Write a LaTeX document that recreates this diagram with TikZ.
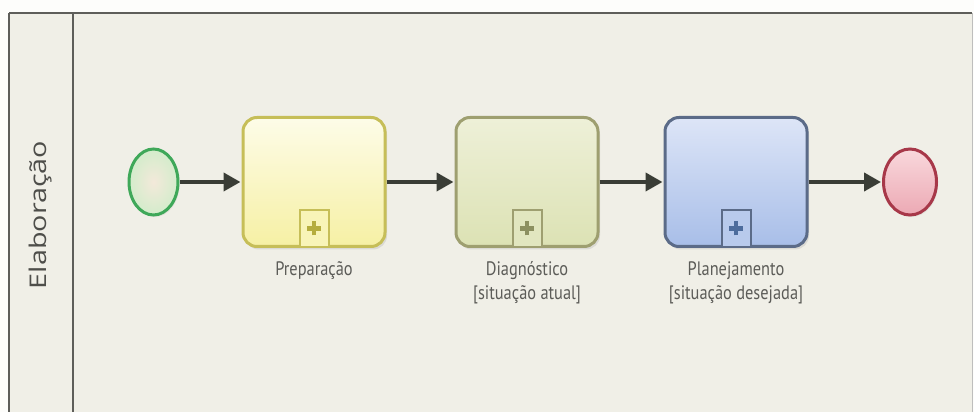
\documentclass[tikz,border=0pt]{standalone}
\usepackage{fontspec}
\usepackage{graphicx}
\usetikzlibrary{shapes.geometric,arrows.meta,shadows}
\newfontfamily\tasklbl[FakeStretch=0.84]{PT Sans}
\newfontfamily\lanelbl[FakeStretch=1.25]{Open Sans}
\definecolor{poolbg}{HTML}{F0EFE7}
\definecolor{outbg}{HTML}{FDFDFB}
\definecolor{poolline}{HTML}{5E5E5A}
\definecolor{flowc}{HTML}{3A3D36}
\definecolor{labelc}{HTML}{5C5C58}
\definecolor{lanec}{HTML}{4E4E4A}
\definecolor{yBord}{HTML}{C6BE58}
\definecolor{yTop}{HTML}{FDFCE8}
\definecolor{yBot}{HTML}{F6F0A4}
\definecolor{yPlus}{HTML}{B5AD3E}
\definecolor{gBord}{HTML}{9E9F70}
\definecolor{gTop}{HTML}{EEF0D8}
\definecolor{gBot}{HTML}{DCE2B4}
\definecolor{gPlus}{HTML}{8C9060}
\definecolor{bBord}{HTML}{5B6B88}
\definecolor{bTop}{HTML}{DDE5F7}
\definecolor{bBot}{HTML}{A8BEE8}
\definecolor{bPlus}{HTML}{4D6C9C}
\definecolor{sBord}{HTML}{3FA859}
\definecolor{sIn}{HTML}{F3E9DA}
\definecolor{sOut}{HTML}{D3ECCB}
\definecolor{eBord}{HTML}{A73849}
\definecolor{eTop}{HTML}{F9D8DC}
\definecolor{eBot}{HTML}{ECA9B4}
\tikzset{
  x=1pt, y=1pt,
  taskbox/.style={rectangle, rounded corners=14pt, minimum width=142pt, minimum height=129pt,
    inner sep=0pt, line width=3pt,
    drop shadow={opacity=0.18, shadow xshift=2pt, shadow yshift=-3pt}},
  marker/.style={rectangle, minimum width=29pt, minimum height=37pt, inner sep=0pt, line width=2pt, anchor=south},
  eventc/.style={ellipse, minimum width=49pt, minimum height=66pt, inner sep=0pt, line width=3pt,
    drop shadow={opacity=0.12, shadow xshift=1.5pt, shadow yshift=-2pt}},
  flow/.style={draw=flowc, line width=4pt, -{Triangle[length=17pt,width=18pt]}, shorten >=1pt},
  pluss/.style={line width=4.5pt},
  tasklabel/.style={font=\tasklbl\fontsize{19.5}{24}\selectfont, text=labelc, align=center, inner sep=0pt, anchor=base},
}
\begin{document}
\begin{tikzpicture}
\useasboundingbox (0,0) rectangle (974,412);
\fill[outbg] (0,0) rectangle (974,412);
\fill[poolbg] (9,-2) rectangle (972,399);
\draw[poolline, line width=2.2pt] (9,399) -- (972,399);
\draw[poolline, line width=1.5pt] (9,-2) -- (9,399);
\draw[poolline, line width=1.5pt] (73,-2) -- (73,399);
\draw[poolline!40, line width=0.8pt] (972,-2) -- (972,399);

\node[rotate=90, font=\lanelbl\fontsize{23}{26}\selectfont, text=lanec, inner sep=0pt] (lane) at (41,197) {Elaboração};

\node[eventc, draw=sBord, inner color=sIn, outer color=sOut] (start) at (153.5,230) {};

\node[taskbox, draw=yBord, top color=yTop, bottom color=yBot] (t1) at (314,230) {};
\node[marker, draw=yBord, fill=yBot!70!yTop] (m1) at (t1.south) {};
\draw[pluss, yPlus] ([xshift=-7pt]m1.center) -- ([xshift=7pt]m1.center);
\draw[pluss, yPlus] ([yshift=-7pt]m1.center) -- ([yshift=7pt]m1.center);

\node[taskbox, draw=gBord, top color=gTop, bottom color=gBot] (t2) at (527,230) {};
\node[marker, draw=gBord, fill=gBot!70!gTop] (m2) at (t2.south) {};
\draw[pluss, gPlus] ([xshift=-7pt]m2.center) -- ([xshift=7pt]m2.center);
\draw[pluss, gPlus] ([yshift=-7pt]m2.center) -- ([yshift=7pt]m2.center);

\node[taskbox, draw=bBord, top color=bTop, bottom color=bBot] (t3) at (736,230) {};
\node[marker, draw=bBord, fill=bBot!70!bTop] (m3) at (t3.south) {};
\draw[pluss, bPlus] ([xshift=-7pt]m3.center) -- ([xshift=7pt]m3.center);
\draw[pluss, bPlus] ([yshift=-7pt]m3.center) -- ([yshift=7pt]m3.center);

\node[eventc, minimum width=53pt, draw=eBord, top color=eTop, bottom color=eBot] (end) at (910,230) {};

\draw[flow] (start) -- (t1);
\draw[flow] (t1) -- (t2);
\draw[flow] (t2) -- (t3);
\draw[flow] (t3) -- (end);

\node[tasklabel] (l1) at (314,136) {Preparação};
\node[tasklabel] (l2a) at (527,136) {Diagnóstico};
\node[tasklabel] (l2b) at (527,112) {[situação atual]};
\node[tasklabel] (l3a) at (736,136) {Planejamento};
\node[tasklabel] (l3b) at (736,112) {[situação desejada]};
\end{tikzpicture}
\end{document}
